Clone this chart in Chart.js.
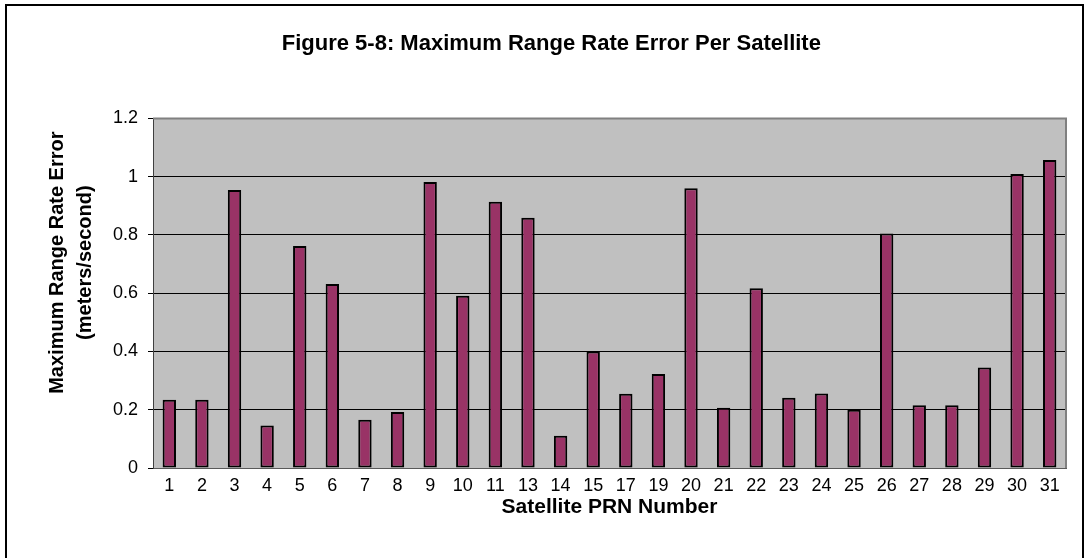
<!DOCTYPE html>
<html>
<head>
<meta charset="utf-8">
<title>Figure 5-8</title>
<script src="https://cdn.jsdelivr.net/npm/chart.js@4.4.1/dist/chart.umd.min.js"></script>
<style>
  html, body { margin: 0; padding: 0; background: #fff; overflow: hidden; }
  canvas { display: block; }
</style>
</head>
<body>
<canvas id="rangeRateChart" width="1089" height="558"></canvas>
<script>
// Satellite PRN numbers (categories) and max range rate error (m/s)
const prnNumbers = ["1", "2", "3", "4", "5", "6", "7", "8", "9", "10", "11", "13", "14", "15",
    "17", "19", "20", "21", "22", "23", "24", "25", "26", "27", "28", "29", "30", "31"];
const maxRangeRateError = [0.234, 0.234, 0.954, 0.146, 0.762, 0.632, 0.166, 0.192, 0.982, 0.591,
    0.914, 0.859, 0.111, 0.400, 0.255, 0.323, 0.960, 0.207, 0.617, 0.241, 0.256, 0.200, 0.805,
    0.215, 0.215, 0.345, 1.009, 1.057];
const yTicks = { min: 0, max: 1.2, step: 0.2 };

const fontFamily = "'Liberation Sans', Arial, sans-serif";
// leading spaces nudge the titles, like the original layout
const yTitlePad = "           ";
const chartTitlePad = "      ";

document.addEventListener("DOMContentLoaded", function () {
    const canvas = document.getElementById("rangeRateChart");
    const ctx = canvas.getContext("2d");

    // grey plot background, grey plot border, outer frame
    const excelLook = {
        id: "excelLook",
        beforeDraw(chart) {
            const c = chart.ctx;
            const a = chart.chartArea;
            c.save();
            c.fillStyle = "#fff";
            c.fillRect(0, 0, chart.width, chart.height);
            c.fillStyle = "#C0C0C0";
            c.fillRect(a.left, a.top, a.right - a.left, a.bottom - a.top);
            c.restore();
        },
        beforeDatasetsDraw(chart) {
            const c = chart.ctx;
            const a = chart.chartArea;
            c.save();
            c.strokeStyle = "#808080";
            c.lineWidth = 2;
            c.beginPath();
            c.moveTo(a.left, a.top);
            c.lineTo(a.right, a.top);
            c.lineTo(a.right, a.bottom);
            c.stroke();
            c.restore();
        },
        afterDraw(chart) {
            const c = chart.ctx;
            c.save();
            c.strokeStyle = "#000";
            c.lineWidth = 2;
            c.strokeRect(6, 5, 1077, 600);
            c.restore();
        }
    };

    new Chart(ctx, {
        type: "bar",
        data: {
            labels: prnNumbers,
            datasets: [{
                label: "Maximum Range Rate Error",
                data: maxRangeRateError,
                backgroundColor: "#993366",
                borderColor: "#000",
                borderWidth: 2,
                borderSkipped: false,
                categoryPercentage: 1.0,
                barPercentage: 0.41
            }]
        },
        options: {
            responsive: false,
            animation: false,
            devicePixelRatio: 1,
            layout: {
                padding: { left: 0, right: 23, top: 0, bottom: 0 }
            },
            plugins: {
                legend: { display: false },
                tooltip: { enabled: false },
                title: {
                    display: true,
                    text: chartTitlePad + "Figure 5-8: Maximum Range Rate Error Per Satellite",
                    color: "#000",
                    font: { family: fontFamily, size: 22, weight: "bold", lineHeight: 1.2 },
                    padding: { top: 31, bottom: 61 }
                }
            },
            scales: {
                x: {
                    grid: { display: false, drawTicks: false },
                    border: { display: true, color: "#595959", width: 1 },
                    ticks: {
                        color: "#000",
                        font: { family: fontFamily, size: 18 },
                        padding: 7,
                        autoSkip: false,
                        maxRotation: 0
                    },
                    title: {
                        display: true,
                        text: "Satellite PRN Number",
                        color: "#000",
                        font: { family: fontFamily, size: 21, weight: "bold", lineHeight: 1.2 },
                        padding: { top: 0, bottom: 38 }
                    },
                    afterFit(scale) { scale.height = 90; }
                },
                y: {
                    min: yTicks.min,
                    max: yTicks.max,
                    grid: {
                        color: "#000",
                        lineWidth: 1,
                        drawTicks: true,
                        tickLength: 5,
                        tickColor: "#000"
                    },
                    border: { display: true, color: "#404040", width: 1 },
                    ticks: {
                        stepSize: yTicks.step,
                        color: "#000",
                        font: { family: fontFamily, size: 18 },
                        padding: 10,
                        callback: function (value) {
                            return String(parseFloat(value.toFixed(1)));
                        }
                    },
                    title: {
                        display: true,
                        text: [yTitlePad + "Maximum Range Rate Error", yTitlePad + "(meters/second)"],
                        color: "#000",
                        font: { family: fontFamily, size: 20, weight: "bold", lineHeight: 1.385 },
                        padding: { top: 44, bottom: 0 }
                    },
                    afterFit(scale) { scale.width = 153; }
                }
            }
        },
        plugins: [excelLook]
    });
});
</script>
</body>
</html>
